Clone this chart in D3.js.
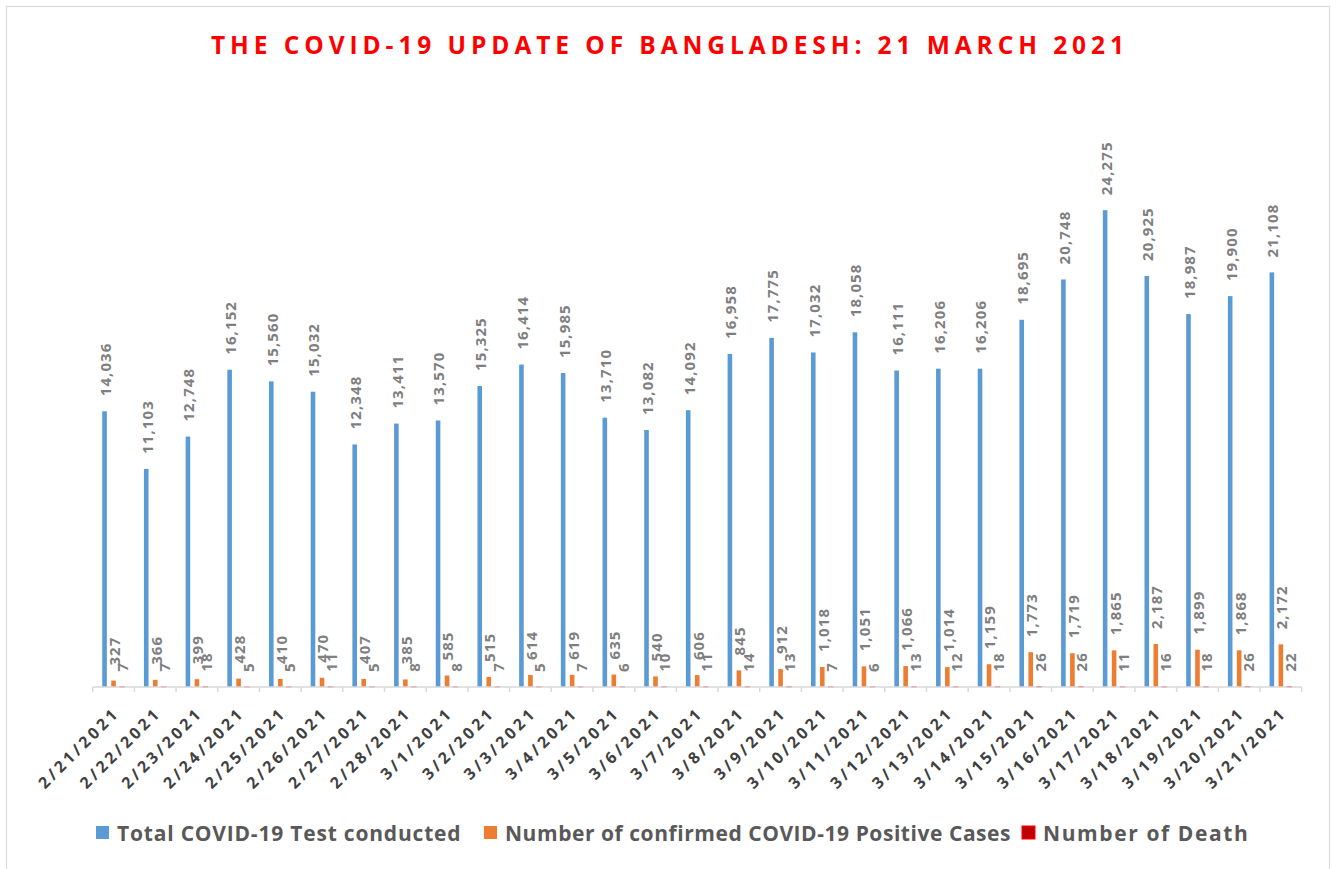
<!DOCTYPE html>
<html>
<head>
<meta charset="utf-8">
<script src="https://cdn.jsdelivr.net/npm/d3@7"></script>
<style>
  html, body { margin: 0; padding: 0; background: #fff; }
  svg { display: block; }
  text { font-family: "Open Sans", "Noto Sans", sans-serif; }
</style>
</head>
<body>
<svg id="chart" width="1336" height="869"></svg>
<script>
const dates = ["2/21/2021","2/22/2021","2/23/2021","2/24/2021","2/25/2021","2/26/2021","2/27/2021","2/28/2021",
  "3/1/2021","3/2/2021","3/3/2021","3/4/2021","3/5/2021","3/6/2021","3/7/2021","3/8/2021","3/9/2021","3/10/2021",
  "3/11/2021","3/12/2021","3/13/2021","3/14/2021","3/15/2021","3/16/2021","3/17/2021","3/18/2021","3/19/2021",
  "3/20/2021","3/21/2021"];
const tests = [14036, 11103, 12748, 16152, 15560, 15032, 12348, 13411, 13570, 15325, 16414, 15985, 13710, 13082,
  14092, 16958, 17775, 17032, 18058, 16111, 16206, 16206, 18695, 20748, 24275, 20925, 18987, 19900, 21108];
const positives = [327, 366, 399, 428, 410, 470, 407, 385, 585, 515, 614, 619, 635, 540, 606, 845, 912, 1018,
  1051, 1066, 1014, 1159, 1773, 1719, 1865, 2187, 1899, 1868, 2172];
const deaths = [7, 7, 18, 5, 5, 11, 5, 8, 8, 7, 5, 7, 6, 10, 11, 14, 13, 7, 6, 13, 12, 18, 26, 26, 11, 16, 18, 26, 22];
const seriesNames = ["Total COVID-19 Test conducted", "Number of confirmed COVID-19 Positive Cases", "Number of Death"];
const title = "THE COVID-19 UPDATE OF BANGLADESH: 21 MARCH 2021";

const colors = ["#5B9BD5", "#ED7D31", "#C00000"];
const strokes = ["none", "none", "#FF0000"];
const series = [tests, positives, deaths];

const svg = d3.select("#chart");

// outer border
svg.append("rect").attr("x", 6.5).attr("y", 6.5).attr("width", 1323).attr("height", 880)
  .attr("fill", "none").attr("stroke", "#D9D9D9").attr("stroke-width", 1.2);

// title
svg.append("text").attr("x", 667.5).attr("y", 54).attr("text-anchor", "middle")
  .attr("font-size", 24.5).attr("font-weight", 700).attr("fill", "#FF0000")
  .attr("textLength", 913).attr("lengthAdjust", "spacing")
  .text(title);

const x = d3.scaleBand().domain(dates).range([92.7, 1301.7]).padding(0);
const y = d3.scaleLinear().domain([0, 28000]).range([687, 137]);

const offsets = [-9, 0, 8.5];
const barW = 4.6;

series.forEach((vals, si) => {
  const g = svg.append("g");
  g.selectAll("rect").data(vals).join("rect")
    .attr("x", (d, i) => x(dates[i]) + x.bandwidth() / 2 + offsets[si] - barW / 2)
    .attr("y", d => y(d))
    .attr("width", barW)
    .attr("height", d => y(0) - y(d))
    .attr("fill", colors[si])
    .attr("stroke", strokes[si]).attr("stroke-width", 0.8);
});

// data labels
series.forEach((vals, si) => {
  const g = svg.append("g");
  g.selectAll("text").data(vals).join("text")
    .attr("transform", (d, i) => {
      const cx = x(dates[i]) + x.bandwidth() / 2 + offsets[si] + 1;
      return `translate(${cx},${y(d) - 15}) rotate(-90)`;
    })
    .attr("dy", "0.36em")
    .attr("font-size", 15).attr("font-weight", 700).attr("fill", "#7F7F7F")
    .attr("letter-spacing", 1.1)
    .text(d => d3.format(",")(d));
});

// axis
svg.append("line").attr("x1", 92.7).attr("x2", 1301.7).attr("y1", 687).attr("y2", 687)
  .attr("stroke", "#D9D9D9").attr("stroke-width", 1.5);
const bounds = dates.map(d => x(d)).concat([x(dates[dates.length - 1]) + x.bandwidth()]);
svg.append("g").selectAll("line").data(bounds).join("line")
  .attr("x1", d => d).attr("x2", d => d).attr("y1", 687).attr("y2", 692)
  .attr("stroke", "#D9D9D9").attr("stroke-width", 1.5);

const xAxis = d3.axisBottom(x).tickSize(0).tickPadding(0);
const ax = svg.append("g").call(xAxis);
ax.select(".domain").remove();
ax.selectAll(".tick text")
  .attr("x", null).attr("y", null).attr("dy", null)
  .attr("transform", "translate(7,714) rotate(-45)")
  .attr("text-anchor", "end")
  .attr("font-family", "Open Sans, sans-serif")
  .attr("font-size", 16).attr("font-weight", 700).attr("fill", "#404040")
  .attr("letter-spacing", 3.3);

// legend
const legendX = [96, 484, 1022];
const legendSpacing = [0.8, 0.55, 1.6];
const lg = svg.append("g");
seriesNames.forEach((name, i) => {
  lg.append("rect").attr("x", legendX[i]).attr("y", 826).attr("width", 13).attr("height", 13)
    .attr("fill", colors[i]).attr("stroke", strokes[i]).attr("stroke-width", 1);
  lg.append("text").attr("x", legendX[i] + 21).attr("y", 841)
    .attr("font-size", 21).attr("font-weight", 700).attr("fill", "#595959")
    .attr("letter-spacing", legendSpacing[i])
    .text(name);
});
</script>
</body>
</html>
